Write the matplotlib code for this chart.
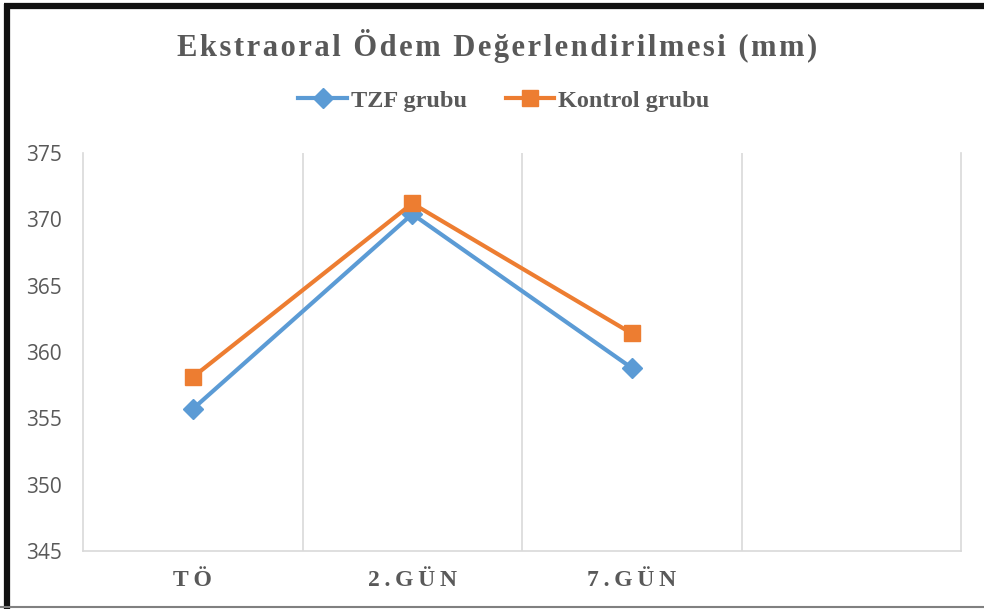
import numpy as np
import matplotlib.pyplot as plt
from matplotlib.lines import Line2D

# data
categories = ['TÖ', '2.GÜN', '7.GÜN', '']
tzf = [355.7, 370.4, 358.8]
kontrol = [358.1, 371.2, 361.4]
y_ticks = [345, 350, 355, 360, 365, 370, 375]

blue = '#5B9BD5'
orange = '#ED7D31'
grey_txt = '#595959'
grid_c = '#D9D9D9'


def spaced(s, sep='\u200a'):
    # mimic Excel's expanded letter spacing
    return sep.join(s)


fig = plt.figure(figsize=(9.84, 6.09), dpi=100)
ax = fig.add_axes([83 / 984, 58 / 609, (961 - 83) / 984, (551 - 153) / 609])

x = np.arange(len(tzf))
ax.plot(x, tzf, color=blue, lw=3, marker='D', ms=10, label='TZF grubu')
ax.plot(x, kontrol, color=orange, lw=3, marker='s', ms=12, label='Kontrol grubu')

ax.set_xlim(-0.5, len(categories) - 0.5)
ax.set_ylim(345, 375)
ax.set_yticks(y_ticks)
ax.set_xticks(np.arange(len(categories)))
ax.set_xticklabels([spaced(c, '\u2009') for c in categories],
                   family=['Liberation Serif', 'DejaVu Serif'],
                   fontweight='bold', fontsize=17, color=grey_txt)
ax.set_yticklabels([str(v) for v in y_ticks], family='Open Sans', fontsize=15, color=grey_txt)
ax.tick_params(axis='both', length=0)
ax.tick_params(axis='y', pad=15)
ax.tick_params(axis='x', pad=14)

# vertical grid on category boundaries
ax.set_xticks(np.arange(len(categories) - 1) + 0.5, minor=True)
ax.tick_params(axis='x', which='minor', length=0)
ax.grid(axis='x', which='minor', color=grid_c, lw=1.2)
ax.set_axisbelow(True)
for side in ['left', 'right', 'bottom']:
    ax.spines[side].set_color(grid_c)
    ax.spines[side].set_linewidth(1.2)
ax.spines['top'].set_visible(False)

fig.text(0.5 + 5 / 984, 1 - 46 / 609, spaced('Ekstraoral Ödem Değerlendirilmesi (mm)'),
         ha='center', va='center', family=['Liberation Serif', 'DejaVu Serif'],
         fontweight='bold', fontsize=22, color=grey_txt)

fig.legend(loc='center', bbox_to_anchor=(0.512, 1 - 101 / 609), ncol=2, frameon=False,
           prop={'family': 'Liberation Serif', 'weight': 'bold', 'size': 17.5},
           handlelength=2.0, columnspacing=1.6, handletextpad=0.15, labelcolor=grey_txt)

# outer frame like the screenshot
fig.add_artist(Line2D([4 / 984, 1], [1 - 6 / 609] * 2, transform=fig.transFigure,
                      color='#111111', lw=4.5, solid_capstyle='butt'))
fig.add_artist(Line2D([7 / 984] * 2, [0, 1 - 4 / 609], transform=fig.transFigure,
                      color='#111111', lw=4.5, solid_capstyle='butt'))
fig.add_artist(Line2D([0, 1], [1 - 607 / 609] * 2, transform=fig.transFigure,
                      color='#808080', lw=1.5))

fig.savefig('out.png', dpi=100)
